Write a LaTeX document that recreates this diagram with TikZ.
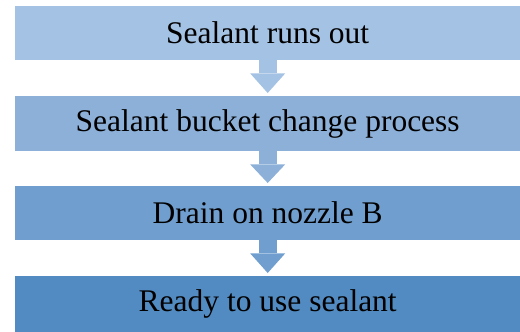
\documentclass[tikz,border=0pt]{standalone}
\usepackage{fontspec}
\newfontfamily\stepfont{Liberation Serif}
\definecolor{stepA}{RGB}{164,194,228}
\definecolor{stepB}{RGB}{141,176,217}
\definecolor{stepC}{RGB}{112,158,206}
\definecolor{stepD}{RGB}{82,139,193}
\begin{document}
\begin{tikzpicture}[x=1pt,y=-1pt,
  stepbox/.style={minimum width=505pt,inner sep=0pt,anchor=north west,
    font=\stepfont\fontsize{31.5}{34}\selectfont}]
\useasboundingbox (0,0) rectangle (520,332);
\node[stepbox,fill=stepA,minimum height=54pt] (s1) at (15,6) {Sealant runs out};
\node[stepbox,fill=stepB,minimum height=55pt] (s2) at (15,96) {Sealant bucket change process};
\node[stepbox,fill=stepC,minimum height=54pt] (s3) at (15,186) {Drain on nozzle B};
\node[stepbox,fill=stepD,minimum height=56pt] (s4) at (15,276) {Ready to use sealant};
% down arrows between the steps: stem then triangular head
\foreach \a/\b/\c in {s1/s2/stepA,s2/s3/stepB,s3/s4/stepC}{
  \fill[\c] ([xshift=-9pt]\a.south) rectangle ([xshift=9pt,yshift=-13pt]\a.south);
  \fill[\c] ([xshift=-17.5pt,yshift=-13pt]\a.south) -- ([xshift=17.5pt,yshift=-13pt]\a.south)
    -- ([yshift=3pt]\b.north) -- cycle;
}
\end{tikzpicture}
\end{document}
